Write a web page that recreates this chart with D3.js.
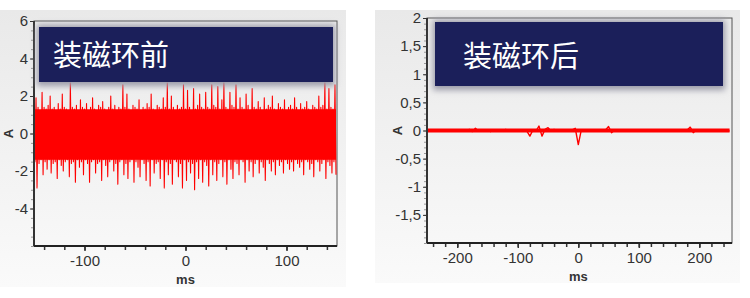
<!DOCTYPE html>
<html>
<head>
<meta charset="utf-8">
<script src="https://cdn.jsdelivr.net/npm/d3@7"></script>
<style>
  body { margin: 0; background: #fff; }
  svg { display: block; }
  .tick text { font-family: "Liberation Sans", Arial, sans-serif; fill: #333; }
</style>
</head>
<body>
<script>
// ---- data ----
// before the ferrite ring: one peak and one trough per 2 ms, from -150 ms
var leftTitle = "装磁环前";
var leftPeaks = [
  1.3,1.9,1.4,1.2,2.2,1.4,1.3,1.5,2.0,1.3,
  1.4,1.2,1.6,1.3,2.1,1.4,1.3,1.2,2.7,1.4,
  1.3,1.5,1.2,1.8,1.4,1.3,1.6,1.2,1.4,1.9,
  1.3,1.2,1.5,1.4,1.7,1.3,1.2,1.4,2.0,1.3,
  1.5,1.2,1.4,1.3,2.6,1.4,2.1,1.3,1.2,1.5,
  1.4,1.3,1.8,1.2,1.4,1.3,1.6,1.4,2.1,1.3,
  1.2,1.5,1.4,1.3,1.9,1.4,2.7,1.3,2.0,1.4,
  1.2,1.5,1.3,1.4,2.6,1.3,2.3,1.4,1.2,2.4,
  1.3,1.5,2.1,1.4,1.3,2.2,1.4,1.3,2.6,1.5,
  1.4,2.5,1.3,1.8,2.7,1.4,1.3,2.2,1.5,1.4,
  2.6,1.3,1.9,1.4,1.3,2.1,1.5,1.2,2.4,1.4,
  1.3,1.7,1.4,1.2,1.9,1.3,1.5,1.4,2.0,1.3,
  1.2,1.6,1.4,1.3,1.8,1.2,1.4,1.5,1.3,1.9,
  1.4,1.2,1.6,1.3,1.4,1.7,1.3,1.2,1.5,1.4,
  1.3,2.0,1.4,1.5,2.7,1.3,2.4,1.4,1.3,2.6
];
var leftTroughs = [
  -1.5,-2.9,-1.6,-1.4,-2.2,-1.5,-1.9,-1.4,-2.1,-1.6,
  -1.5,-2.4,-1.4,-1.7,-2.0,-1.5,-1.4,-2.3,-1.6,-1.5,
  -2.6,-1.4,-1.8,-1.5,-2.2,-1.4,-1.6,-2.6,-1.5,-1.4,
  -2.1,-1.6,-1.5,-2.5,-1.4,-1.7,-2.3,-1.5,-1.4,-2.0,
  -1.6,-2.7,-1.5,-1.4,-2.2,-1.6,-2.4,-1.5,-1.4,-2.6,
  -1.5,-1.8,-2.3,-1.4,-1.6,-2.5,-1.5,-2.8,-1.4,-2.1,
  -1.6,-1.5,-2.4,-1.4,-2.9,-1.5,-2.2,-1.6,-2.7,-1.4,
  -1.5,-2.3,-1.6,-2.9,-1.4,-2.5,-1.5,-2.1,-1.6,-3.0,
  -1.5,-2.4,-1.4,-2.6,-1.5,-1.7,-2.8,-1.4,-2.2,-1.5,
  -2.5,-1.6,-1.4,-2.3,-1.5,-2.7,-1.4,-1.9,-2.4,-1.5,
  -1.6,-2.2,-1.4,-1.5,-2.6,-1.4,-2.0,-1.5,-2.3,-1.6,
  -1.4,-2.1,-1.5,-1.8,-2.5,-1.4,-1.6,-2.0,-1.5,-2.2,
  -1.4,-1.7,-1.5,-2.1,-1.4,-1.6,-1.9,-1.5,-2.0,-1.4,
  -1.6,-1.8,-1.5,-2.2,-1.4,-1.5,-1.9,-1.6,-2.3,-1.4,
  -1.5,-2.0,-1.6,-1.4,-2.4,-1.5,-1.7,-2.1,-1.5,-2.2
];
// solid part of the noise band
var leftCore = [-1.4, 1.3];
var leftXTicks = [-100, 0, 100];
var leftYTicks = [-4, -2, 0, 2, 4, 6];

// after the ferrite ring: one sample per 5 ms, from -250 ms
var rightTitle = "装磁环后";
var rightValues = [
  0.01,-0.01,0.01,-0.01,0.01,-0.01,0.01,-0.01,0.01,-0.01,
  0.01,-0.01,0.01,-0.01,0.02,-0.02,0.04,-0.01,0.01,-0.01,
  0.01,-0.02,0.01,-0.01,0.01,-0.01,0.02,-0.01,0.01,-0.01,
  0.01,-0.01,0.01,-0.01,-0.10,0.01,-0.01,0.08,-0.10,0.02,
  0.05,-0.01,0.02,-0.01,0.01,-0.01,0.01,-0.01,0.01,0.04,
  -0.25,0.01,-0.01,0.01,-0.01,0.01,-0.01,0.01,-0.01,0.01,
  0.07,-0.04,0.01,-0.01,0.01,-0.01,0.01,-0.01,0.01,-0.01,
  0.01,-0.01,0.01,-0.01,0.01,-0.01,0.01,-0.01,0.01,-0.01,
  0.01,-0.01,0.01,-0.01,0.01,-0.01,0.01,0.06,-0.04,0.01,
  -0.01,0.01,-0.01,0.01,-0.01,0.01,-0.01,0.01,-0.01,0.01,-0.01
];
var rightCore = [-0.035, 0.035];
var rightXTicks = [-200, -100, 0, 100, 200];
var rightYTicks = [-1.5, -1, -0.5, 0, 0.5, 1, 1.5, 2];

window.onload = function(){
  var w = 750, h = 298;
  var svg = d3.select("body").append("svg")
      .attr("width", w)
      .attr("height", h);

  var defs = svg.append("defs");
  //soft grey panel background
  var grad = defs.append("linearGradient")
      .attr("id", "bg")
      .attr("x1", 0).attr("y1", 0).attr("x2", 0).attr("y2", 1);
  grad.append("stop").attr("offset", "0%").attr("stop-color", "#e9e9e9");
  grad.append("stop").attr("offset", "100%").attr("stop-color", "#fafafa");
  //blur for the shadow round the title boxes
  defs.append("filter")
      .attr("id", "blur")
      .attr("x", "-10%").attr("y", "-30%").attr("width", "120%").attr("height", "160%")
    .append("feGaussianBlur")
      .attr("stdDeviation", 3);

  //comma decimals and plain hyphen as in the picture
  var locale = d3.formatLocale({decimal: ",", thousands: ".", grouping: [3], currency: ["", ""], minus: "-"});
  var fmt = locale.format("");

  //build the sample lists
  var leftData = [];
  leftPeaks.forEach(function(p, i){
    leftData.push({t: -150 + 2 * i, v: p});
    leftData.push({t: -149 + 2 * i, v: leftTroughs[i]});
  });
  var rightData = rightValues.map(function(v, i){
    return {t: -250 + 5 * i, v: v};
  });

  drawPanel({
    id: "l", bg: [0, 10, 346, 277],
    left: 34, right: 337, top: 21, bottom: 246,
    xDomain: [-150, 150], yDomain: [-6, 6],
    xTicks: leftXTicks, yTicks: leftYTicks,
    xMinor: d3.range(-140, 150, 20), yMinor: d3.range(-6, 6.01, 0.5),
    box: [39, 27, 294, 55], title: leftTitle, titleX: 53, titleY: 66,
    aX: 8, msY: 284,
    data: leftData, core: leftCore, lineWidth: 1.1
  });

  drawPanel({
    id: "r", bg: [375, 10, 365, 273],
    left: 427, right: 732, top: 18, bottom: 243,
    xDomain: [-250, 254], yDomain: [-2, 2],
    xTicks: rightXTicks, yTicks: rightYTicks,
    xMinor: d3.range(-240, 254, 20), yMinor: d3.range(-2, 2.001, 0.1),
    box: [435, 22, 288, 64], title: rightTitle, titleX: 463, titleY: 67,
    aX: 397, msY: 281,
    data: rightData, core: rightCore, lineWidth: 1.4
  });

  function drawPanel(c){
    var g = svg.append("g");

    //panel background
    g.append("rect")
        .attr("x", c.bg[0]).attr("y", c.bg[1])
        .attr("width", c.bg[2]).attr("height", c.bg[3])
        .style("fill", "url(#bg)");

    var x = d3.scaleLinear().domain(c.xDomain).range([c.left, c.right]);
    var y = d3.scaleLinear().domain(c.yDomain).range([c.bottom, c.top]);

    //clip for the signal
    defs.append("clipPath").attr("id", "clip-" + c.id)
      .append("rect")
        .attr("x", c.left).attr("y", c.top)
        .attr("width", c.right - c.left).attr("height", c.bottom - c.top);

    //plot frame
    g.append("rect")
        .attr("x", c.left).attr("y", c.top)
        .attr("width", c.right - c.left).attr("height", c.bottom - c.top)
        .style("fill", "none")
        .style("stroke", "#555")
        .style("stroke-width", 1);

    //solid core of the noise
    var area = d3.area()
        .x(function(d){ return x(d.t); })
        .y0(y(c.core[0]))
        .y1(y(c.core[1]));
    g.append("path")
        .datum(c.data)
        .attr("clip-path", "url(#clip-" + c.id + ")")
        .attr("d", area)
        .style("fill", "#ff0000");

    //signal
    var line = d3.line()
        .x(function(d){ return x(d.t); })
        .y(function(d){ return y(d.v); });
    g.append("path")
        .datum(c.data)
        .attr("clip-path", "url(#clip-" + c.id + ")")
        .attr("d", line)
        .style("fill", "none")
        .style("stroke", "#ff0000")
        .style("stroke-width", c.lineWidth)
        .style("stroke-linejoin", "round");

    //minor ticks
    g.append("g")
        .attr("transform", "translate(" + c.left + ",0)")
        .call(d3.axisLeft(y).tickValues(c.yMinor).tickSize(3).tickFormat(""))
        .call(function(a){
          a.select(".domain").remove();
          a.selectAll("line").style("stroke", "#999");
        });
    g.append("g")
        .attr("transform", "translate(0," + c.bottom + ")")
        .call(d3.axisBottom(x).tickValues(c.xMinor).tickSize(4).tickFormat(""))
        .call(function(a){
          a.select(".domain").remove();
          a.selectAll("line").style("stroke", "#333").style("stroke-width", 1.5);
        });

    //major axes with labels
    g.append("g")
        .attr("transform", "translate(" + c.left + ",0)")
        .call(d3.axisLeft(y).tickValues(c.yTicks).tickSize(4).tickPadding(2).tickFormat(fmt))
        .call(function(a){
          a.select(".domain").remove();
          a.selectAll("line").style("stroke", "#333");
          a.selectAll("text").style("font-size", "15px");
        });
    g.append("g")
        .attr("transform", "translate(0," + c.bottom + ")")
        .call(d3.axisBottom(x).tickValues(c.xTicks).tickSize(5).tickPadding(4).tickFormat(fmt))
        .call(function(a){
          a.select(".domain").remove();
          a.selectAll("line").style("stroke", "#333").style("stroke-width", 1.5);
          a.selectAll("text").style("font-size", "15px");
        });

    //darker left and bottom edges
    g.append("line")
        .attr("x1", c.left).attr("x2", c.left)
        .attr("y1", c.top).attr("y2", c.bottom)
        .style("stroke", "#333").style("stroke-width", 2);
    g.append("line")
        .attr("x1", c.left).attr("x2", c.right)
        .attr("y1", c.bottom).attr("y2", c.bottom)
        .style("stroke", "#222").style("stroke-width", 2);

    //axis titles
    g.append("text")
        .attr("x", x(0)).attr("y", c.msY)
        .attr("text-anchor", "middle")
        .style("font-family", "Liberation Sans, Arial, sans-serif")
        .style("font-size", "13px")
        .style("font-weight", "bold")
        .style("fill", "#333")
        .text("ms");
    g.append("text")
        .attr("transform", "translate(" + c.aX + "," + y(0) + ") rotate(-90)")
        .attr("text-anchor", "middle")
        .attr("dy", "0.35em")
        .style("font-family", "Liberation Sans, Arial, sans-serif")
        .style("font-size", "13px")
        .style("font-weight", "bold")
        .style("fill", "#333")
        .text("A");

    //title box with its grey glow
    g.append("rect")
        .attr("x", c.box[0] - 2).attr("y", c.box[1] - 2)
        .attr("width", c.box[2] + 4).attr("height", c.box[3] + 6)
        .attr("filter", "url(#blur)")
        .style("fill", "#9a9aa8");
    g.append("rect")
        .attr("x", c.box[0]).attr("y", c.box[1])
        .attr("width", c.box[2]).attr("height", c.box[3])
        .style("fill", "#1b1f5a");
    g.append("text")
        .attr("x", c.titleX).attr("y", c.titleY)
        .style("font-family", "Noto Sans CJK SC, sans-serif")
        .style("font-size", "29px")
        .style("fill", "#fff")
        .text(c.title);
  }
};
</script>
</body>
</html>
